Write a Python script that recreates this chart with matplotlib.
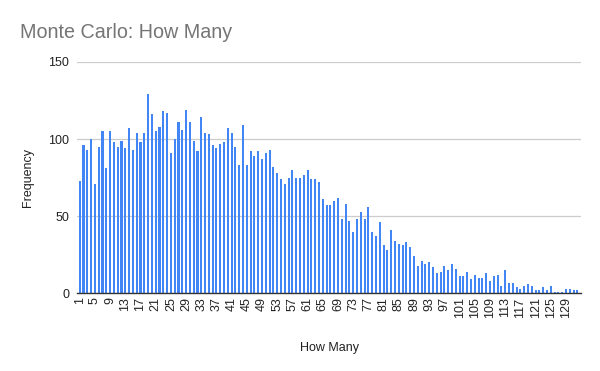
import numpy as np
from matplotlib import pyplot as plt

# how many draws it took, per trial count
how_many = list(range(1, 133))
frequency = [73, 96, 93, 100, 71, 95, 105, 81, 105, 98,
             95, 99, 94, 107, 93, 104, 98, 104, 129, 116,
             105, 108, 118, 117, 91, 100, 111, 106, 119, 111,
             99, 92, 114, 104, 103, 96, 94, 97, 98, 107,
             104, 95, 83, 109, 83, 92, 89, 92, 87, 91,
             93, 82, 78, 74, 71, 75, 80, 75, 75, 77,
             80, 74, 74, 72, 61, 57, 57, 60, 62, 48,
             58, 47, 40, 48, 53, 48, 56, 40, 37, 46,
             31, 28, 41, 34, 32, 31, 33, 30, 24, 18,
             21, 19, 20, 17, 13, 14, 18, 15, 19, 16,
             11, 11, 14, 9, 12, 10, 10, 13, 8, 11,
             12, 5, 15, 7, 7, 4, 3, 5, 6, 5,
             2, 2, 4, 2, 5, 1, 1, 1, 3, 3,
             2, 2]
tick_labels = [str(n) for n in how_many[::4]]

plt.rcParams['font.family'] = ['Liberation Sans', 'DejaVu Sans']

fig = plt.figure(figsize=(6, 3.71), dpi=100)
ax = fig.add_axes([0.129, 0.2094, 0.839, 0.6236])

ax.bar(how_many, frequency, width=0.55, color='#4285F4', zorder=3)

ax.set_xlim(0.4, 132.9)
ax.set_ylim(0, 150)
ax.set_yticks([0, 50, 100, 150])
ax.set_xticks(how_many[::4])
ax.set_xticklabels(tick_labels, rotation=90, fontsize=9, color='#222222')
ax.tick_params(axis='y', labelsize=9, colors='#222222', length=0, pad=6)
ax.tick_params(axis='x', length=0, pad=3)
ax.grid(axis='y', color='#cccccc', linewidth=0.9, zorder=0)

for side in ['left', 'right', 'top']:
    ax.spines[side].set_visible(False)
ax.spines['bottom'].set_color('#333333')
ax.spines['bottom'].set_linewidth(1.0)
ax.spines['bottom'].set_zorder(4)

ax.set_xlabel('How Many', fontsize=9, color='#222222', labelpad=17)
ax.set_ylabel('Frequency', fontsize=9, color='#222222', labelpad=10)
fig.text(0.033, 0.913, 'Monte Carlo: How Many', fontsize=14.2, color='#757575',
         va='center', ha='left')

fig.savefig('out.png', dpi=100)
